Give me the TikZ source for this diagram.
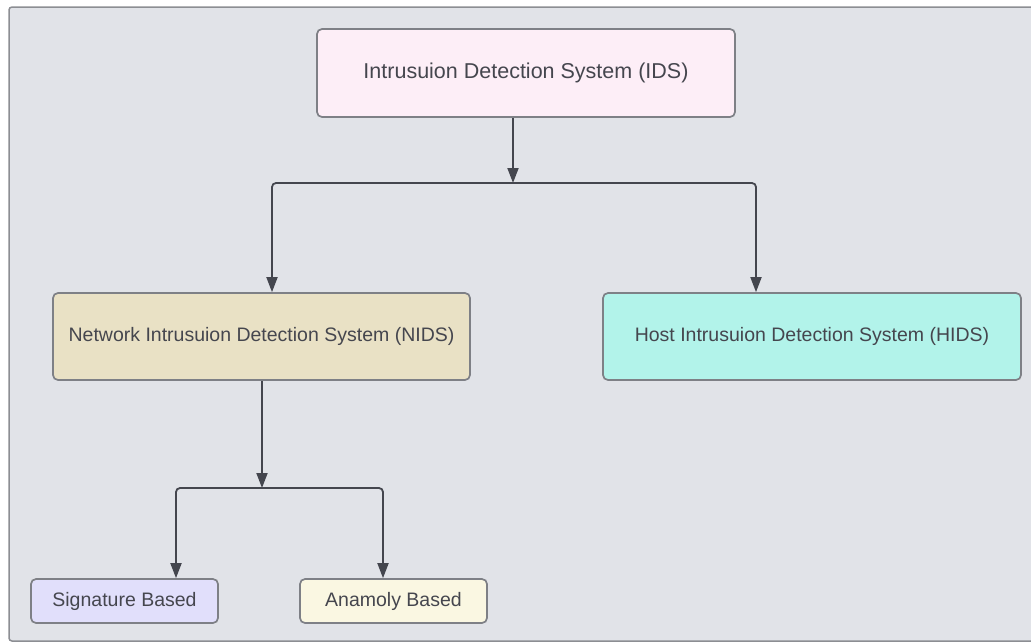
\documentclass[tikz,border=0pt]{standalone}
\usepackage{fontspec}
\setmainfont{Liberation Sans}
\usetikzlibrary{arrows.meta}
\definecolor{bgc}{HTML}{E1E3E8}
\definecolor{bgline}{HTML}{8C8E93}
\definecolor{boxline}{HTML}{7E8086}
\definecolor{arr}{HTML}{44464E}
\definecolor{txt}{HTML}{45464E}
\definecolor{idsfill}{HTML}{FDEEF7}
\definecolor{nidsfill}{HTML}{E9E1C5}
\definecolor{hidsfill}{HTML}{B2F3EA}
\definecolor{sigfill}{HTML}{E1DFFB}
\definecolor{anofill}{HTML}{FAF7E2}
\begin{document}
\begin{tikzpicture}[x=1pt,y=-1pt,
  box/.style={draw=boxline,line width=1.7pt,rounded corners=5pt,inner sep=0pt,
    text=txt,font=\fontsize{19.5}{23}\selectfont},
  conn/.style={draw=arr,line width=1.8pt,rounded corners=4pt,
    -{Triangle[length=15pt,width=11pt]}},
  link/.style={draw=arr,line width=1.8pt,rounded corners=4pt}]
\useasboundingbox (0,0) rectangle (1031,643);
\path[fill=white] (0,0) rectangle (1031,643);
\draw[fill=bgc,draw=bgline,line width=1.5pt,rounded corners=3pt] (9,7) rectangle (1045,641);

\node[box,fill=idsfill,minimum width=418pt,minimum height=88pt,
  font=\fontsize{21.5}{25}\selectfont] (ids) at (526,73) {Intrusuion Detection System (IDS)};
\node[box,fill=nidsfill,minimum width=417pt,minimum height=87pt] (nids) at (261.5,336.5)
  {Network Intrusuion Detection System (NIDS)};
\node[box,fill=hidsfill,minimum width=418pt,minimum height=87pt] (hids) at (812,336.5)
  {Host Intrusuion Detection System (HIDS)};
\node[box,fill=sigfill,minimum width=187pt,minimum height=44pt] (sig) at (124.5,601)
  {Signature Based};
\node[box,fill=anofill,minimum width=187pt,minimum height=44pt] (ano) at (393.5,601)
  {Anamoly Based};

\coordinate (j1) at (513,183);
\coordinate (j2) at (262,488);

\draw[conn] (ids.south -| j1) -- (j1);
\draw[conn] (j1) -| ([xshift=10.5pt]nids.north);
\draw[conn] (j1) -| ([xshift=-56pt]hids.north);
\draw[conn] (nids.south -| j2) -- (j2);
\draw[conn] (j2) -| ([xshift=51.5pt]sig.north);
\draw[conn] (j2) -| ([xshift=-10.5pt]ano.north);
\end{tikzpicture}
\end{document}
